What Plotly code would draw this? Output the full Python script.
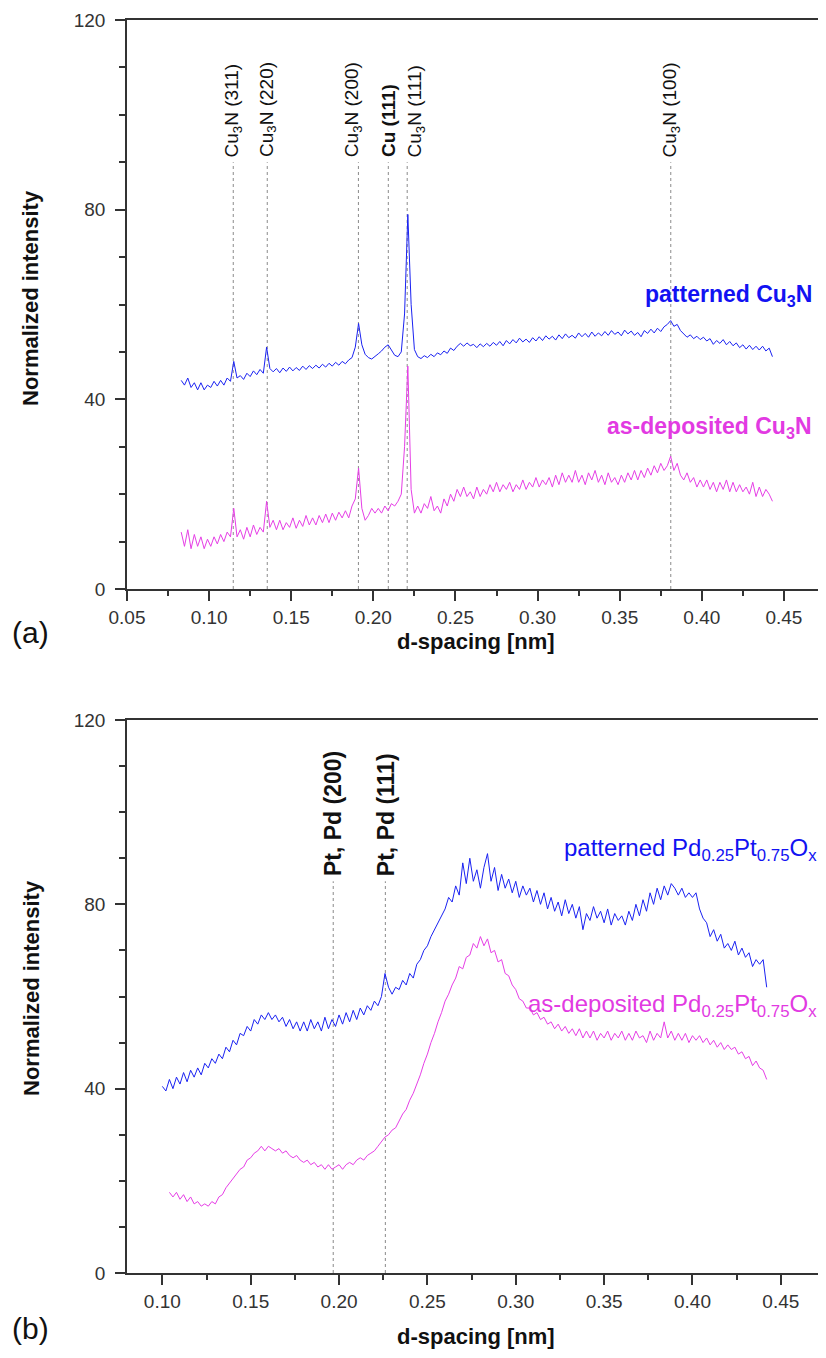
import plotly.graph_objects as go

# ---------------- data: panel (a) Cu3N ----------------
a_x_start = 0.083
a_x_step = 0.002
a_patterned = [
    44, 43, 44.5, 42.5, 43.5, 42, 43.5, 42, 43, 42.5,
    43.8, 42.8, 44, 43, 44.5, 43.8, 48, 44.5, 45, 44.2,
    45.5, 44.8, 46, 45.2, 46.3, 45.5, 51, 46.5, 45.8, 46.5,
    45.6, 46.6, 45.9, 46.8, 46, 46.7, 46.1, 47, 46.3, 47.1,
    46.5, 47.2, 46.6, 47.4, 46.8, 47.6, 47, 47.8, 47.2, 48,
    47.5, 48.3, 48.8, 51, 56, 51.5, 49.5, 48.8, 48.5, 49,
    49.6, 50.2, 51, 51.5, 50.5, 49.3, 49, 50, 58, 79,
    60, 50.5, 49, 48.6, 49.2, 48.8, 49.5, 49, 49.8, 49.4,
    50.2, 49.7, 50.8, 50.3, 51.2, 51.8, 51.2, 51.9, 51.3, 51.6,
    50.9, 51.7, 51.1, 51.8, 51.2, 52, 51.4, 52.2, 51.3, 52.4,
    51.7, 52.6, 51.9, 52.9, 52.1, 52.7, 52, 53, 52.3, 53.2,
    52.4, 53.4, 52.7, 53.3, 52.5, 53.6, 52.8, 53.8, 53, 53.5,
    52.9, 54, 53.2, 53.9, 53.1, 54.2, 53.3, 54, 53.4, 54.3,
    53.5, 54.5, 53.7, 54.2, 53.4, 54.6, 53.8, 54.4, 53.5, 54.1,
    53.2, 54.5, 53.9, 54.8, 54, 55, 54.3, 55.3, 55.8, 56.6,
    55.4, 55.8, 54.5, 53.9, 53.1, 53.6, 52.8, 53.3, 52.6, 53.1,
    52.3, 52.8, 51.6, 52.4, 51.8, 52.6, 51.5, 52.2, 51.3, 51.9,
    50.9, 51.5, 50.6, 51.4, 50.5, 51.2, 50.4, 51.2, 50.2, 50.8,
    49,
]
a_deposited = [
    12, 9, 12.5, 8.5, 11.5, 9, 11, 8.5, 10.5, 9,
    11, 9.5, 11.5, 10, 12, 11, 17, 11, 12.5, 10.5,
    13, 11, 13.5, 11.5, 13, 12, 18.5, 13, 14.5, 12.5,
    14.5, 12.5, 14, 13, 15, 12.8, 14.5, 13.2, 15.5, 13.5,
    15, 13.5, 15.5, 14, 15.8, 14, 16, 14.5, 16.2, 15,
    16.5, 15, 17.5, 19, 25.5, 17, 14.5, 15.5, 17, 16,
    17, 16, 17.5, 16.5, 18, 17.5, 18.5, 20, 30, 47,
    21, 16, 17.5, 16, 18, 17, 19.5, 16.5, 17.5, 16,
    19, 17.5, 20, 18.5, 21, 19.5, 21.5, 19.5, 20.5, 19,
    21.5, 19.5, 21, 20, 22, 20.5, 22.5, 20.5, 22, 21,
    22.5, 20.5, 22, 21, 23, 21, 22.5, 21.5, 23.5, 21.5,
    23, 22, 23.5, 21.5, 24, 22, 24.5, 22.5, 24, 22.5,
    25, 22.5, 24, 22, 24.5, 23, 25, 22.5, 24, 22,
    24.5, 22.5, 23.5, 22, 24, 22.5, 24.5, 23, 25, 23,
    25, 23.5, 25.5, 24, 26, 24.5, 26.5, 25, 26, 28,
    25, 26.5, 24, 23, 24.5, 22.5, 23.5, 21.5, 23, 21.5,
    23, 21, 22.5, 20.5, 22.5, 21, 23, 20.5, 22.5, 20.5,
    22, 20.5, 21.5, 20, 22.5, 19.5, 21.5, 19.5, 21, 20,
    18.5,
]
a_peaks = [0.1147, 0.1354, 0.1909, 0.2091, 0.2206, 0.3811]
a_peak_labels = ["Cu<sub>3</sub>N (311)", "Cu<sub>3</sub>N (220)", "Cu<sub>3</sub>N (200)",
                 "<b>Cu (111)</b>", "Cu<sub>3</sub>N (111)", "Cu<sub>3</sub>N (100)"]
a_label_shift = [0, 0, -6, 0, 9, 0]

# ---------------- data: panel (b) Pd0.25Pt0.75Ox ----------------
b_pat_x_start = 0.100
b_dep_x_start = 0.104
b_x_step = 0.002
b_patterned = [
    40.5, 39.5, 42, 40, 42.5, 41, 43.5, 41.5, 44, 42.5,
    44.5, 43, 45.5, 44.5, 46.5, 45.5, 47.5, 46.5, 49, 48,
    50.5, 49.5, 52, 51.5, 53.5, 52.5, 55, 54, 56, 55,
    56.5, 55, 56, 54.5, 55.5, 53.5, 55, 53, 54.5, 52.5,
    54.5, 52.5, 55, 53, 54.5, 52.5, 55.5, 53, 55, 53.5,
    56, 54, 56.5, 54.5, 57, 55, 57.5, 56, 58, 57,
    59, 58, 60, 65, 62, 60.5, 62, 61.5, 63.5, 62.5,
    65, 64, 67, 68, 70, 71, 73, 74.5, 76, 77.5,
    79, 81.5, 80.5, 84, 82, 89, 84.5, 90, 85, 87.5,
    83.5, 88, 91, 85, 88, 83, 86.5, 83.5, 85.5, 82.5,
    85, 81.5, 84, 82, 83.5, 80.5, 83, 80, 82.5, 79,
    81.5, 78.5, 80.5, 77.5, 81, 78, 80, 77, 79.5, 74.5,
    78, 76.5, 79.5, 77, 78.5, 76, 79, 75.5, 78, 76.5,
    77.5, 75.5, 78.5, 76.5, 80, 77.5, 81, 78.5, 82.5, 80,
    83.5, 81, 84, 82, 84.5, 83.5, 82, 83.5, 81.5, 82.5,
    81.5, 82.5, 79, 77, 76, 73, 74.5, 72, 73.5, 70.5,
    71.5, 70, 72, 69, 70.5, 68.5, 69.5, 66.5, 68, 67,
    68, 62,
]
b_deposited = [
    17.5, 16.5, 17.5, 16, 17, 15.5, 16.5, 15, 15.5, 14.5,
    15, 14.5, 15.5, 15, 16.5, 17, 18.5, 19.5, 20.5, 21.5,
    22.5, 23, 24.5, 25, 26, 26.5, 27.5, 26.5, 27.5, 27,
    26.5, 27, 26, 26.5, 25.5, 25, 25.5, 24.5, 24, 24.5,
    23.5, 24, 23, 23.5, 22.5, 23.5, 22.5, 23, 23.5, 22.5,
    23.5, 24, 23.5, 24.5, 25, 24.5, 25.5, 26, 26.5, 27.5,
    28.5, 29.5, 30, 31, 31.5, 33, 34.5, 35.5, 37.5, 39,
    41, 43, 45.5, 47.5, 50, 52, 54.5, 56.5, 59, 60.5,
    62.5, 64, 66.5, 66, 68.5, 69, 71.5, 70.5, 73, 71,
    72.5, 69.5, 70, 67.5, 68, 65, 64.5, 62.5, 61.5, 59.5,
    59, 57.5, 57.5, 56, 56.5, 55, 55.5, 54, 54.5, 53,
    54, 52.5, 53.5, 52, 53, 51.5, 53, 51, 52.5, 51,
    52.5, 50.5, 52, 51, 52.5, 50.5, 52, 51, 52.5, 50.5,
    52, 50.5, 52.5, 51, 51.5, 50, 52.5, 50.5, 52, 51,
    54.5, 51, 52.5, 50.5, 52, 50.5, 52, 50, 51.5, 50.5,
    51.5, 50, 51, 49.5, 50.5, 49, 50, 48.5, 49.5, 48.5,
    49, 47.5, 48, 46.5, 47, 45, 46, 44.5, 44, 42,
]
b_peaks = [0.1967, 0.2262]
b_peak_labels = ["<b>Pt, Pd (200)</b>", "<b>Pt, Pd (111)</b>"]

x_ticks_a = [0.05, 0.10, 0.15, 0.20, 0.25, 0.30, 0.35, 0.40, 0.45]
x_ticks_b = [0.10, 0.15, 0.20, 0.25, 0.30, 0.35, 0.40, 0.45]
y_ticks = [0, 40, 80, 120]


def grid(start, step, n):
    return [round(start + step * i, 4) for i in range(n)]


BLUE = "#1a22f2"
MAG = "#e63ee6"
BLUE_T = "#1212f2"
MAG_T = "#e23ae2"
FONT = "Liberation Sans, Arial, sans-serif"

fig = go.Figure()
fig.add_trace(go.Scatter(x=grid(a_x_start, a_x_step, len(a_patterned)), y=a_patterned,
                         mode="lines", line=dict(color=BLUE, width=1), xaxis="x", yaxis="y"))
fig.add_trace(go.Scatter(x=grid(a_x_start, a_x_step, len(a_deposited)), y=a_deposited,
                         mode="lines", line=dict(color=MAG, width=1), xaxis="x", yaxis="y"))
fig.add_trace(go.Scatter(x=grid(b_pat_x_start, b_x_step, len(b_patterned)), y=b_patterned,
                         mode="lines", line=dict(color=BLUE, width=1), xaxis="x2", yaxis="y2"))
fig.add_trace(go.Scatter(x=grid(b_dep_x_start, b_x_step, len(b_deposited)), y=b_deposited,
                         mode="lines", line=dict(color=MAG, width=1), xaxis="x2", yaxis="y2"))

shapes = []
annotations = []
A_TOP = 90
B_TOP = 85
for d, lab, sh in zip(a_peaks, a_peak_labels, a_label_shift):
    shapes.append(dict(type="line", xref="x", yref="y", x0=d, x1=d, y0=0, y1=A_TOP,
                       line=dict(color="#8a8a8a", width=1, dash="dot"), layer="below"))
    annotations.append(dict(x=d, y=A_TOP, xref="x", yref="y", text=lab, textangle=-90,
                            showarrow=False, xanchor="center", yanchor="bottom", yshift=3,
                            xshift=sh, font=dict(family=FONT, size=19, color="#111")))
for d, lab in zip(b_peaks, b_peak_labels):
    shapes.append(dict(type="line", xref="x2", yref="y2", x0=d, x1=d, y0=0, y1=B_TOP,
                       line=dict(color="#8a8a8a", width=1, dash="dot"), layer="below"))
    annotations.append(dict(x=d, y=B_TOP, xref="x2", yref="y2", text=lab, textangle=-90,
                            showarrow=False, xanchor="center", yanchor="bottom", yshift=3,
                            font=dict(family=FONT, size=23, color="#111")))

# series labels
annotations += [
    dict(x=0.4685, y=62, xref="x", yref="y", text="<b>patterned Cu<sub>3</sub>N</b>",
         showarrow=False, xanchor="right", yanchor="middle",
         font=dict(family=FONT, size=23, color=BLUE_T)),
    dict(x=0.4685, y=34, xref="x", yref="y", text="<b>as-deposited Cu<sub>3</sub>N</b>",
         showarrow=False, xanchor="right", yanchor="middle",
         font=dict(family=FONT, size=23, color=MAG_T)),
    dict(x=0.4715, y=92, xref="x2", yref="y2",
         text="patterned Pd<sub>0.25</sub>Pt<sub>0.75</sub>O<sub>x</sub>",
         showarrow=False, xanchor="right", yanchor="middle",
         font=dict(family=FONT, size=24, color=BLUE_T)),
    dict(x=0.4715, y=58, xref="x2", yref="y2",
         text="as-deposited Pd<sub>0.25</sub>Pt<sub>0.75</sub>O<sub>x</sub>",
         showarrow=False, xanchor="right", yanchor="middle",
         font=dict(family=FONT, size=24, color=MAG_T)),
]

# The page body has an 8px default margin, so the figure is drawn 8px right/down.
# Plot area in page pixels: x 127..825, y 20..1273 (paper coords below use these).
def px_x(p):
    return (p - 127) / 698.0


def px_y(p):
    return (1273 - p) / 1253.0


annotations += [
    dict(x=px_x(10), y=px_y(632), xref="paper", yref="paper", text="(a)", showarrow=False,
         xanchor="left", yanchor="middle", font=dict(family=FONT, size=30, color="#111")),
    dict(x=px_x(10), y=px_y(1328), xref="paper", yref="paper", text="(b)", showarrow=False,
         xanchor="left", yanchor="middle", font=dict(family=FONT, size=30, color="#111")),
    dict(x=0.5, y=px_y(641), xref="paper", yref="paper", text="<b>d-spacing [nm]</b>",
         showarrow=False, xanchor="center", yanchor="middle",
         font=dict(family=FONT, size=22, color="#111")),
    dict(x=0.5, y=px_y(1336), xref="paper", yref="paper", text="<b>d-spacing [nm]</b>",
         showarrow=False, xanchor="center", yanchor="middle",
         font=dict(family=FONT, size=22, color="#111")),
    dict(x=px_x(31), y=px_y(298), xref="paper", yref="paper", text="<b>Normalized intensity</b>",
         textangle=-90, showarrow=False, xanchor="center", yanchor="middle",
         font=dict(family=FONT, size=22, color="#111")),
    dict(x=px_x(31), y=px_y(988), xref="paper", yref="paper", text="<b>Normalized intensity</b>",
         textangle=-90, showarrow=False, xanchor="center", yanchor="middle",
         font=dict(family=FONT, size=22, color="#111")),
]

top_dom = [px_y(589), 1.0]
bot_dom = [0.0, px_y(720)]

common_x = dict(showline=True, linecolor="#333", linewidth=1.5, mirror=True,
                ticks="outside", ticklen=10, tickwidth=1.5, tickcolor="#333",
                showgrid=False, zeroline=False,
                tickfont=dict(family=FONT, size=19, color="#333"),
                minor=dict(ticks="outside", ticklen=5, tickwidth=1.5, tickcolor="#333",
                           dtick=0.025, showgrid=False))
common_y = dict(showline=True, linecolor="#333", linewidth=1.5, mirror=True,
                ticks="outside", ticklen=10, tickwidth=1.5, tickcolor="#333",
                showgrid=False, zeroline=False, range=[0, 120],
                tickmode="array", tickvals=y_ticks, ticklabelstandoff=6,
                tickfont=dict(family=FONT, size=19, color="#333"),
                minor=dict(ticks="outside", ticklen=6, tickwidth=1.5, tickcolor="#333",
                           dtick=10, tick0=0, showgrid=False))

fig.update_layout(
    width=818, height=1350,
    margin=dict(l=119, r=1, t=12, b=85, autoexpand=False),
    paper_bgcolor="white", plot_bgcolor="white",
    showlegend=False,
    xaxis=dict(domain=[0, 1], anchor="y", range=[0.05, 0.475], tickmode="array",
               tickvals=x_ticks_a, ticktext=[f"{v:.2f}" for v in x_ticks_a], **common_x),
    yaxis=dict(domain=top_dom, anchor="x", **common_y),
    xaxis2=dict(domain=[0, 1], anchor="y2", range=[0.08, 0.475], tickmode="array",
                tickvals=x_ticks_b, ticktext=[f"{v:.2f}" for v in x_ticks_b], **common_x),
    yaxis2=dict(domain=bot_dom, anchor="x2", **common_y),
    shapes=shapes,
    annotations=annotations,
)

fig.write_html("out.html")
